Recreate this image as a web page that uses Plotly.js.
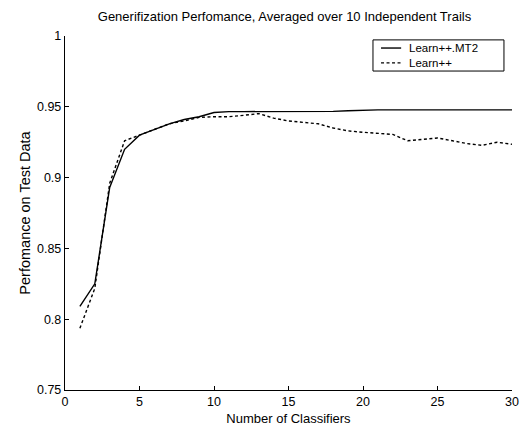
<!DOCTYPE html>
<html>
<head>
<meta charset="utf-8">
<script src="https://cdn.plot.ly/plotly-3.0.1.min.js"></script>
<style>html,body{margin:0;padding:0;background:#fff;}#chart{width:522px;height:426px;}</style>
</head>
<body>
<div id="chart"></div>
<script>
var classifiers = [1,2,3,4,5,6,7,8,9,10,11,12,13,14,15,16,17,18,19,20,21,22,23,24,25,26,27,28,29,30];
var learnMT2 = [0.809,0.825,0.893,0.920,0.930,0.934,0.938,0.941,0.943,0.946,0.9466,0.9466,0.9466,0.9466,0.9466,0.9466,0.9466,0.9468,0.9472,0.9476,0.9478,0.9478,0.9478,0.9478,0.9474,0.9473,0.9473,0.9474,0.9478,0.9478];
var learnPP = [0.7936,0.8218,0.896,0.926,0.930,0.934,0.938,0.940,0.9425,0.943,0.943,0.944,0.9452,0.942,0.940,0.939,0.938,0.935,0.933,0.932,0.931,0.9305,0.926,0.927,0.928,0.926,0.924,0.9228,0.925,0.9235];
var seriesNames = ['Learn++.MT2','Learn++'];
var xTicks = [0,5,10,15,20,25,30];
var yTicks = [0.75,0.8,0.85,0.9,0.95,1];
var yTickText = ['0.75','0.8','0.85','0.9','0.95','1'];

var fam = 'Liberation Sans, Arial, sans-serif';
var solidLine = {color:'#000', width:1.4};
var dashLine = {color:'#000', width:1.4, dash:'3px,2.5px'};
var traces = [
  {x:classifiers, y:learnMT2, name:seriesNames[0], mode:'lines', line:solidLine, showlegend:false},
  {x:classifiers, y:learnPP, name:seriesNames[1], mode:'lines', line:dashLine, showlegend:false}
];
// custom compact legend (paper coords)
var lgX0 = 0.689, lgX1 = 0.982, lgY0 = 0.901, lgY1 = 0.989;
var smpX0 = 0.707, smpX1 = 0.752, txtX = 0.768;
var rowY = [0.966, 0.924];
var shapes = [
  {type:'rect', xref:'paper', yref:'paper', x0:lgX0, x1:lgX1, y0:lgY0, y1:lgY1, line:{color:'#000', width:1}, fillcolor:'#fff', layer:'above'},
  {type:'line', xref:'paper', yref:'paper', x0:smpX0, x1:smpX1, y0:rowY[0], y1:rowY[0], line:solidLine, layer:'above'},
  {type:'line', xref:'paper', yref:'paper', x0:smpX0, x1:smpX1, y0:rowY[1], y1:rowY[1], line:dashLine, layer:'above'}
];
var annotations = seriesNames.map(function(n, i){
  return {text:n, xref:'paper', yref:'paper', x:txtX, y:rowY[i], xanchor:'left', yanchor:'middle', showarrow:false, borderpad:0, font:{family:fam, size:11.5, color:'#000'}};
});
var layout = {
  width:522, height:426,
  margin:{l:65, r:10, t:36, b:36},
  paper_bgcolor:'#fff', plot_bgcolor:'#fff',
  font:{family:fam, size:12.5, color:'#000'},
  showlegend:false,
  shapes:shapes, annotations:annotations,
  title:{text:'Generifization Perfomance, Averaged over 10 Independent Trails', font:{family:fam, size:13, color:'#000'}, x:0.545, xanchor:'center', y:0.962, yanchor:'middle'},
  xaxis:{range:[0,30], tickvals:xTicks, showline:true, linecolor:'#000', linewidth:1.2, ticks:'inside', ticklen:4, tickcolor:'#000', showgrid:false, zeroline:false,
    title:{text:'Number of Classifiers', font:{family:fam, size:13, color:'#000'}, standoff:5}, tickfont:{family:fam,size:12.5,color:'#000'}},
  yaxis:{range:[0.75,1], tickvals:yTicks, ticktext:yTickText, showline:true, linecolor:'#000', linewidth:1.2, ticks:'inside', ticklen:4, tickcolor:'#000', showgrid:false, zeroline:false,
    title:{text:'Perfomance on Test Data', font:{family:fam, size:14.5, color:'#000'}, standoff:2}, tickfont:{family:fam,size:12.5,color:'#000'}}
};
Plotly.newPlot('chart', traces, layout, {displayModeBar:false, staticPlot:true});
</script>
</body>
</html>
